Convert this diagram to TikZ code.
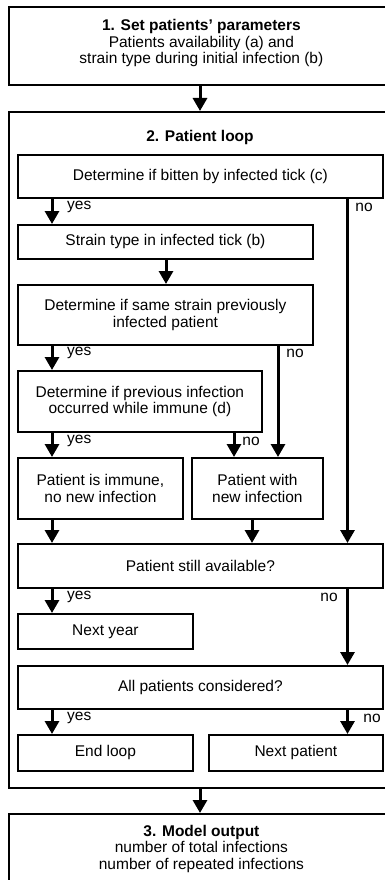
\documentclass[tikz,border=0pt]{standalone}
\usepackage{fontspec}
\setmainfont{Liberation Sans}
\usetikzlibrary{arrows.meta}
\begin{document}
\begin{tikzpicture}[x=1pt,y=-1pt,
  box/.style={draw, line width=1.8pt, inner sep=0pt, align=center, anchor=north west,
    font=\fontsize{15.5}{16.8}\selectfont},
  arr/.style={line width=3pt, -{Triangle[length=13pt,width=14pt]}},
  lab/.style={font=\fontsize{15.5}{16.8}\selectfont, inner sep=0pt}]
\useasboundingbox (0,0) rectangle (385,880);
\clip (0,0) rectangle (385,880);
% x positions of the connectors
\coordinate (xa) at (52,0);
\coordinate (xb) at (166,0);
\coordinate (xc) at (234,0);
\coordinate (xd) at (252,0);
\coordinate (xe) at (278,0);
\coordinate (xf) at (347.5,0);
\coordinate (xm) at (200,0);
% boxes
\node[box, minimum width=385, minimum height=78, text depth=9pt] (s1) at (8,6)
  {{\bfseries 1. Set patients' parameters}\\Patients availability (a) and\\strain type during initial infection (b)};
\node[box, minimum width=385, minimum height=676] (loop) at (8,111) {};
\node[lab, font=\fontsize{15.5}{16.8}\selectfont\bfseries] (t2) at (200,137) {2. Patient loop};
\node[box, minimum width=365, minimum height=43] (c) at (17,154) {Determine if bitten by infected tick (c)};
\node[box, minimum width=295, minimum height=34] (b) at (17,224) {Strain type in infected tick (b)};
\node[box, minimum width=295, minimum height=60] (s) at (17,284) {Determine if same strain previously\\infected patient};
\node[box, minimum width=244, minimum height=61] (d) at (17,370) {Determine if previous infection\\occurred while immune (d)};
\node[box, minimum width=165, minimum height=61] (imm) at (17,457) {Patient is immune,\\no new infection};
\node[box, minimum width=131, minimum height=61] (new) at (191,457) {Patient with\\new infection};
\node[box, minimum width=365, minimum height=44] (avail) at (17,543) {Patient still available?};
\node[box, minimum width=175, minimum height=35] (ny) at (17,613) {Next year};
\node[box, minimum width=365, minimum height=43] (all) at (17,665) {All patients considered?};
\node[box, minimum width=175, minimum height=36] (end) at (17,734) {End loop};
\node[box, minimum width=174, minimum height=36] (np) at (208,734) {Next patient};
\node[box, minimum width=385, minimum height=70] (s3) at (8,813)
  {{\bfseries 3. Model output}\\number of total infections\\number of repeated infections};
% connectors
\draw[arr] (s1.south -| xm) -- (loop.north -| xm);
\draw[arr] (c.south -| xa) -- (b.north -| xa);
\draw[arr] (c.south -| xf) -- (avail.north -| xf);
\draw[arr] (b.south -| xb) -- (s.north -| xb);
\draw[arr] (s.south -| xa) -- (d.north -| xa);
\draw[arr] (s.south -| xe) -- (new.north -| xe);
\draw[arr] (d.south -| xa) -- (imm.north -| xa);
\draw[arr] (d.south -| xc) -- (new.north -| xc);
\draw[arr] (imm.south -| xa) -- (avail.north -| xa);
\draw[arr] (new.south -| xd) -- (avail.north -| xd);
\draw[arr] (avail.south -| xa) -- (ny.north -| xa);
\draw[arr] (avail.south -| xf) -- (all.north -| xf);
\draw[arr] (all.south -| xa) -- (end.north -| xa);
\draw[arr] (all.south -| xf) -- (np.north -| xf);
\draw[arr] (loop.south -| xm) -- (s3.north -| xm);
% labels
\node[lab, anchor=west] (y1) at (67,207) {yes};
\node[lab] (n1) at (364,207) {no};
\node[lab, anchor=west] (y2) at (67,353) {yes};
\node[lab] (n2) at (295,353) {no};
\node[lab, anchor=west] (y3) at (67,441) {yes};
\node[lab] (n3) at (251,441) {no};
\node[lab, anchor=west] (y4) at (67,597) {yes};
\node[lab] (n4) at (329,597) {no};
\node[lab, anchor=west] (y5) at (67,718) {yes};
\node[lab] (n5) at (372,718) {no};
\end{tikzpicture}
\end{document}
